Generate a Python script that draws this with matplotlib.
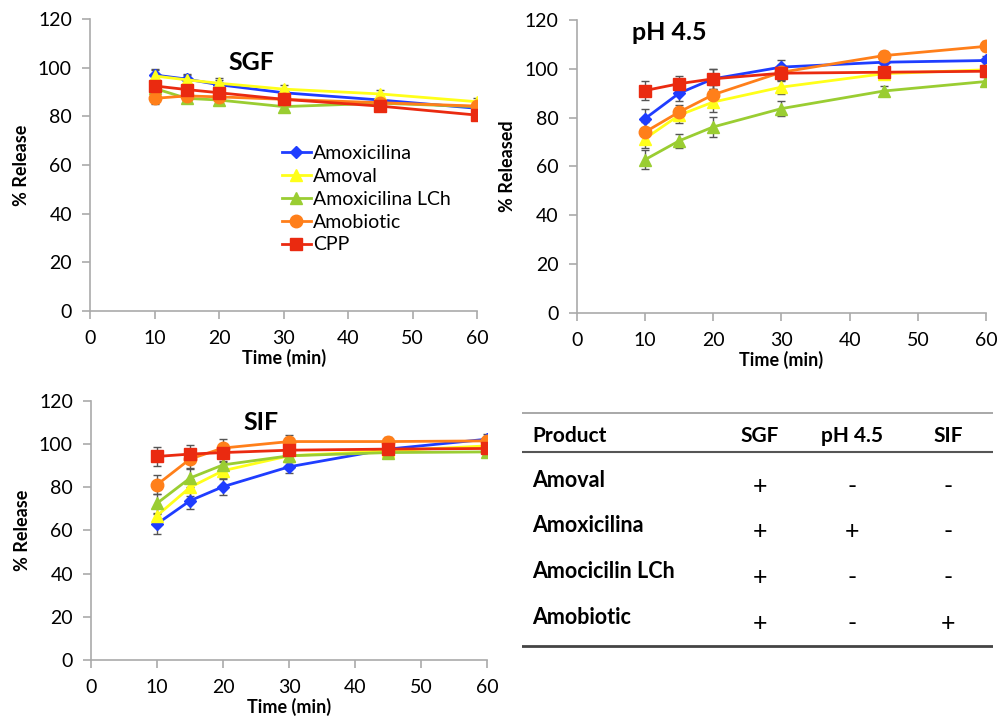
import numpy as np
import matplotlib
matplotlib.use("Agg")
import matplotlib.pyplot as plt

plt.rcParams['font.family'] = ['Lato', 'DejaVu Sans']

# time points (min)
t = np.array([10, 15, 20, 30, 45, 60])
names = ["Amoxicilina", "Amoval", "Amoxicilina LCh", "Amobiotic", "CPP"]

# SGF
sgf_amox = [97.0, 95.3, 93.0, 89.7, 86.7, 83.3]
sgf_amoval = [96.6, 95.0, 93.6, 91.2, 89.2, 86.0]
sgf_lch = [91.5, 87.4, 86.7, 84.0, 85.4, 84.0]
sgf_amob = [87.4, 88.4, 88.0, 87.0, 85.6, 84.2]
sgf_cpp = [92.5, 91.0, 89.7, 87.0, 84.2, 80.5]
sgf_err = [2.5, 2.0, 2.0, 1.5, 1.5, 1.5]

# pH 4.5
ph_amox = [79.6, 90.0, 95.9, 100.7, 102.7, 103.4]
ph_amoval = [71.4, 81.0, 86.4, 92.5, 98.0, 99.6]
ph_lch = [62.8, 70.5, 76.2, 83.7, 90.9, 94.8]
ph_amob = [74.1, 82.3, 89.4, 98.6, 105.4, 109.2]
ph_cpp = [91.1, 93.9, 95.9, 98.2, 98.6, 99.0]
ph_err = [4.0, 3.0, 4.0, 3.0, 2.0, 2.0]

# SIF
sif_amox = [63.1, 73.8, 80.3, 89.5, 97.7, 102.3]
sif_amoval = [66.9, 80.0, 87.7, 94.6, 96.9, 99.2]
sif_lch = [72.6, 84.3, 90.4, 94.6, 96.1, 96.4]
sif_amob = [81.2, 93.1, 98.2, 101.2, 101.2, 101.5]
sif_cpp = [94.3, 95.4, 96.1, 97.2, 97.7, 98.0]
sif_err = [4.5, 4.0, 4.0, 3.0, 2.0, 2.5]

# table
tab_cols = ["Product", "SGF", "pH 4.5", "SIF"]
tab_rows = ["Amoval", "Amoxicilina", "Amocicilin LCh", "Amobiotic"]
tab_vals = [["+", "-", "-"], ["+", "+", "-"], ["+", "-", "-"], ["+", "-", "+"]]

colors = ["#1f3dff", "#ffff1a", "#9acd32", "#ff7f1a", "#ea2a10"]
markers = ["D", "^", "^", "o", "s"]
msizes = [6, 8, 8, 9, 8]

fig = plt.figure(figsize=(9.98, 7.26), dpi=100)


def panel(rect, series, err, title, title_xy, ylabel):
    ax = fig.add_axes(rect)
    for i, y in enumerate(series):
        ax.errorbar(t, y, yerr=err, fmt="none", ecolor="#555555",
                    elinewidth=1, capsize=3, zorder=1)
    for i, y in enumerate(series):
        ax.plot(t, y, color=colors[i], marker=markers[i], ms=msizes[i],
                lw=2, mec=colors[i], label=names[i], zorder=2 + i)
    ax.set_xlim(0, 60)
    ax.set_ylim(0, 120)
    ax.set_xticks(range(0, 61, 10))
    ax.set_yticks(range(0, 121, 20))
    for s in ["top", "right"]:
        ax.spines[s].set_visible(False)
    for s in ["left", "bottom"]:
        ax.spines[s].set_color("#aaaaaa")
        ax.spines[s].set_linewidth(1.2)
    ax.tick_params(colors="#aaaaaa", labelcolor="black", labelsize=14,
                   length=6, width=1.2)
    ax.tick_params(axis="x", pad=8)
    ax.tick_params(axis="y", pad=7)
    ax.set_xlabel("Time (min)", fontsize=13, fontweight="bold", labelpad=1)
    ax.set_ylabel(ylabel, fontsize=13, fontweight="bold", labelpad=6)
    ax.text(title_xy[0], title_xy[1], title, fontsize=18, fontweight="bold",
            ha="center", va="center")
    return ax


ax1 = panel([0.0902, 0.5716, 0.388, 0.4022],
            [sgf_amox, sgf_amoval, sgf_lch, sgf_amob, sgf_cpp], sgf_err,
            "SGF", (25, 102), "% Release")
ax1.legend(loc="upper left", bbox_to_anchor=(0.475, 0.595), frameon=False,
           fontsize=14, handlelength=1.5, handletextpad=0.1,
           labelspacing=0.3, borderaxespad=0)

ax2 = panel([0.578, 0.5689, 0.410, 0.4036],
            [ph_amox, ph_amoval, ph_lch, ph_amob, ph_cpp], ph_err,
            "pH 4.5", (13.5, 115), "% Released")

ax3 = panel([0.0912, 0.0909, 0.397, 0.3568],
            [sif_amox, sif_amoval, sif_lch, sif_amob, sif_cpp], sif_err,
            "SIF", (25.8, 110), "% Release")

# table panel (pixel-like coordinates)
axt = fig.add_axes([522 / 998, 75 / 726, 471 / 998, 320 / 726])
axt.set_xlim(522, 993)
axt.set_ylim(651, 331)
axt.axis("off")
axt.plot([522, 993], [413, 413], color="#999999", lw=1.2)
axt.plot([522, 993], [452, 452], color="#555555", lw=1.5)
axt.plot([522, 993], [646, 646], color="#444444", lw=2)
col_x = [532, 760, 852, 948]
axt.text(col_x[0], 436, tab_cols[0], fontsize=15, fontweight="bold",
         ha="left", va="center")
for cx, c in zip(col_x[1:], tab_cols[1:]):
    axt.text(cx, 436, c, fontsize=15, fontweight="bold", ha="center", va="center")
row_y = [481, 526, 572, 618]
for ry, name, vals in zip(row_y, tab_rows, tab_vals):
    axt.text(col_x[0], ry, name, fontsize=15.5, fontweight="bold",
             ha="left", va="center")
    for cx, v in zip(col_x[1:], vals):
        axt.text(cx, ry + 6, v, fontsize=18, ha="center", va="center")

fig.savefig("out.png", dpi=100)
